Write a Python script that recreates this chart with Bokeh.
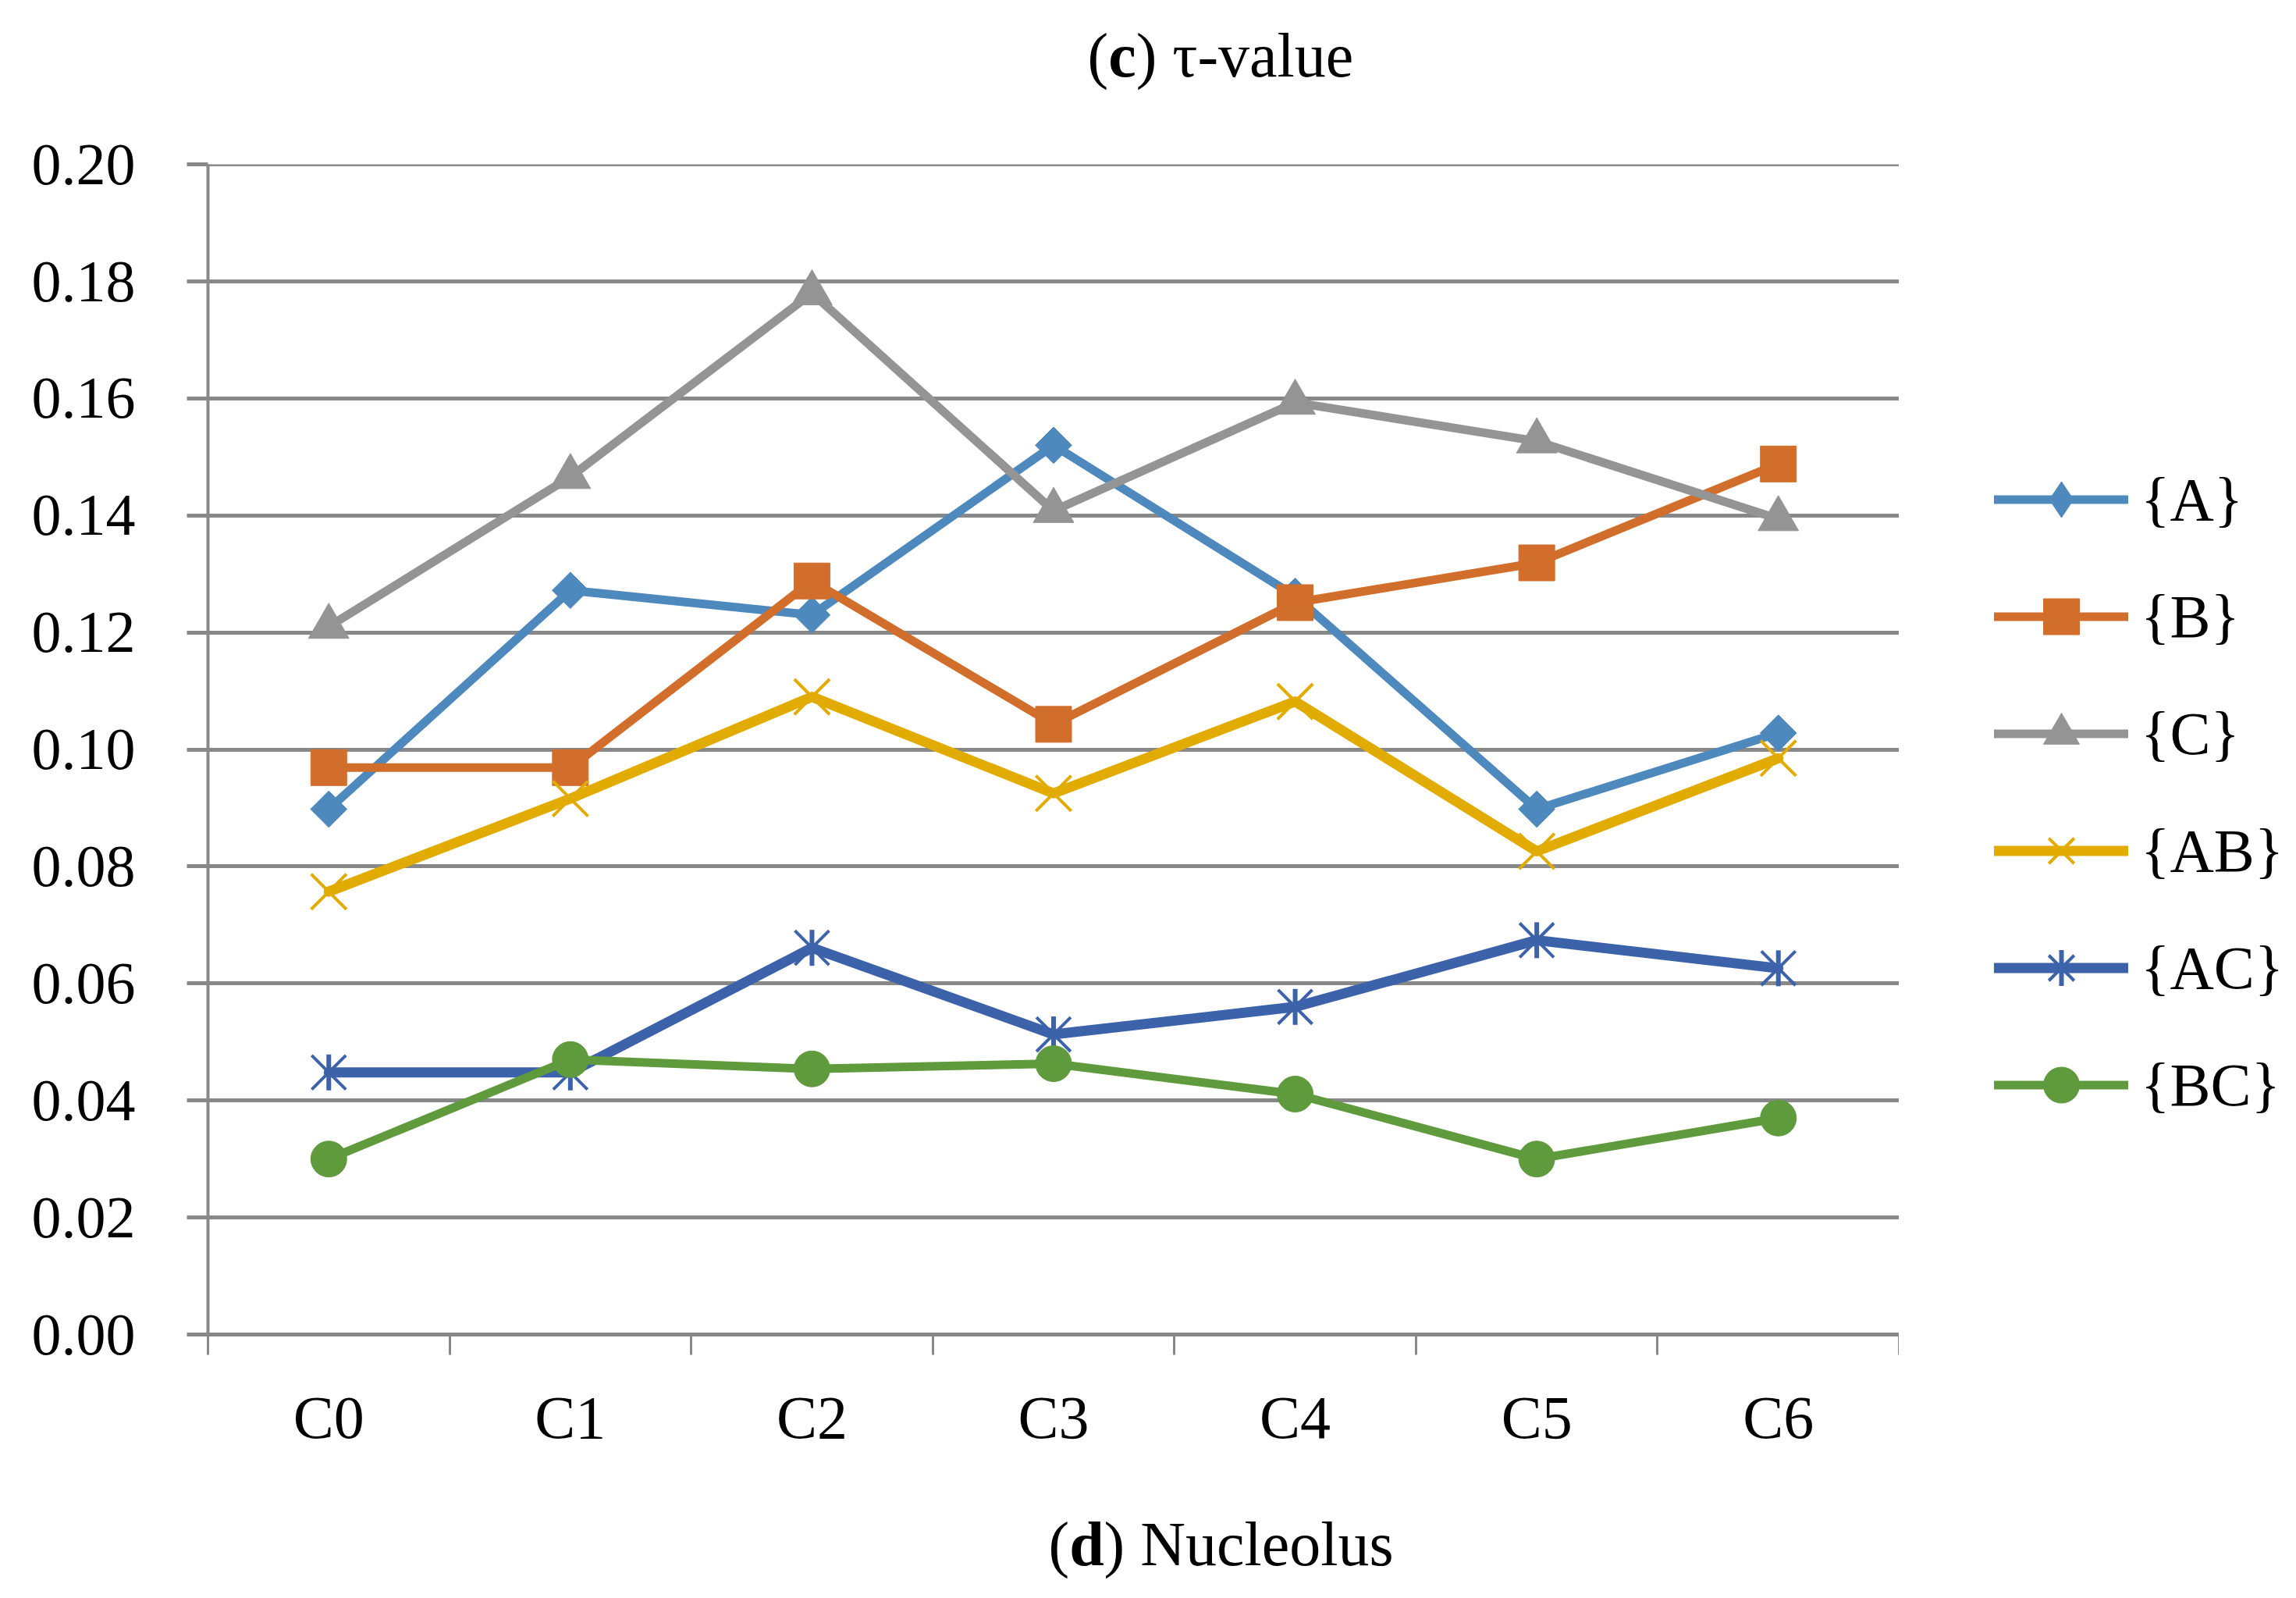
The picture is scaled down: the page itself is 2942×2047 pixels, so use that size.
import math
from bokeh.plotting import figure
from bokeh.layouts import column, row
from bokeh.models import Range1d, FixedTicker, NumeralTickFormatter, Legend, LegendItem, Label
from bokeh.embed import file_html
from bokeh.resources import INLINE

categories = ["C0", "C1", "C2", "C3", "C4", "C5", "C6"]
y_ticks = [0.00, 0.02, 0.04, 0.06, 0.08, 0.10, 0.12, 0.14, 0.16, 0.18, 0.20]

s_A = [0.0898, 0.1272, 0.1230, 0.1520, 0.1262, 0.0898, 0.1028]
s_B = [0.0969, 0.0969, 0.1288, 0.1043, 0.1251, 0.1319, 0.1488]
s_C = [0.1210, 0.1466, 0.1780, 0.1408, 0.1593, 0.1527, 0.1394]
s_AB = [0.0757, 0.0916, 0.1090, 0.0925, 0.1082, 0.0826, 0.0985]
s_AC = [0.0448, 0.0448, 0.0661, 0.0513, 0.0560, 0.0674, 0.0626]
s_BC = [0.0300, 0.0470, 0.0454, 0.0463, 0.0411, 0.0300, 0.0370]

series_names = ["{A}", "{B}", "{C}", "{AB}", "{AC}", "{BC}"]
series_values = [s_A, s_B, s_C, s_AB, s_AC, s_BC]
colors = ["#4E89BD", "#D26E2B", "#949494", "#E2AB00", "#3C62AA", "#5F9A3D"]
line_widths = [11, 11, 11, 13, 13, 11]

title_parts = [("(", False), ("c", True), (") τ-value", False)]
bottom_parts = [("(", False), ("d", True), (") Nucleolus", False)]

FONT = "Liberation Serif"
GRID = "#888888"
FS = 78
CAP_FS = 80
# Times/Liberation advance widths (em) of the short leading pieces
ADV = {("(", False): 0.333, ("c", True): 0.444, ("d", True): 0.556}

TOTAL_W = 2940
TOP_H = 150
MAIN_W = 2433
MAIN_H = 1758
LEG_W = TOTAL_W - MAIN_W
BOT_H = 2045 - TOP_H - MAIN_H


def blank_fig(w, h, xr=(0, 1), yr=(0, 1)):
    f = figure(width=w, height=h, output_backend="svg", toolbar_location=None,
               x_range=Range1d(*xr), y_range=Range1d(*yr),
               x_axis_type=None, y_axis_type=None,
               min_border_left=0, min_border_right=0, min_border_top=0, min_border_bottom=0)
    f.outline_line_color = None
    f.grid.visible = False
    f.background_fill_color = "white"
    f.border_fill_color = "white"
    return f


def rich_text(f, parts, x0, y):
    x = x0
    for txt, bold in parts:
        f.add_layout(Label(x=x, y=y, x_units="screen", y_units="screen", text=txt,
                           text_font=FONT, text_font_size="%dpx" % CAP_FS,
                           text_font_style="bold" if bold else "normal",
                           text_color="black", text_baseline="alphabetic",
                           text_align="left"))
        x += ADV.get((txt, bold), 0) * CAP_FS


# ---- top title
top = blank_fig(TOTAL_W, TOP_H)
rich_text(top, title_parts, 1393, TOP_H - 70)

# ---- main plot
p = figure(width=MAIN_W, height=MAIN_H, output_backend="svg", toolbar_location=None,
           x_range=Range1d(0, len(categories)), y_range=Range1d(0, 0.20002),
           min_border_left=266, min_border_right=0, min_border_top=60,
           min_border_bottom=199)
p.outline_line_color = None
p.background_fill_color = "white"
p.border_fill_color = "white"

xs = [i + 0.5 for i in range(len(categories))]

p.xaxis.ticker = FixedTicker(ticks=xs, minor_ticks=list(range(len(categories) + 1)))
p.xaxis.major_label_overrides = {x: c for x, c in zip(xs, categories)}
p.xaxis.major_tick_out = 0
p.xaxis.major_tick_in = 0
p.xaxis.major_tick_line_color = None
p.xaxis.minor_tick_out = 26
p.xaxis.minor_tick_in = 0
p.xaxis.minor_tick_line_color = GRID
p.xaxis.minor_tick_line_width = 3
p.xaxis.axis_line_color = GRID
p.xaxis.axis_line_width = 5
p.xaxis.major_label_text_font = FONT
p.xaxis.major_label_text_font_size = "%dpx" % FS
p.xaxis.major_label_text_color = "black"
p.xaxis.major_label_standoff = 36

p.yaxis.ticker = FixedTicker(ticks=y_ticks)
p.yaxis.formatter = NumeralTickFormatter(format="0.00")
p.yaxis.major_tick_out = 27
p.yaxis.major_tick_in = 0
p.yaxis.major_tick_line_color = GRID
p.yaxis.major_tick_line_width = 5
p.yaxis.minor_tick_line_color = None
p.yaxis.axis_line_color = GRID
p.yaxis.axis_line_width = 4
p.yaxis.major_label_text_font = FONT
p.yaxis.major_label_text_font_size = "76px"
p.yaxis.major_label_text_color = "black"
p.yaxis.major_label_standoff = 66

p.xgrid.grid_line_color = None
p.ygrid.ticker = FixedTicker(ticks=y_ticks)
p.ygrid.grid_line_color = GRID
p.ygrid.grid_line_width = 5


def draw_markers(f, x, y, idx, col, legend=False):
    """Excel-like marker of each series; returns the renderers"""
    rs = []
    if idx == 0:  # diamond
        if legend:
            rs.append(f.scatter(x, y, marker="diamond", size=48, fill_color=col, line_color=col))
        else:
            rs.append(f.scatter(x, y, marker="square", size=33, angle=math.pi / 4,
                                fill_color=col, line_color=col))
    elif idx == 1:
        rs.append(f.scatter(x, y, marker="square", size=46, fill_color=col, line_color=col))
    elif idx == 2:
        rs.append(f.scatter(x, y, marker="triangle", size=52, fill_color=col, line_color=col))
    elif idx == 3:
        rs.append(f.scatter(x, y, marker="x", size=64, line_color=col, line_width=4))
    elif idx == 4:
        rs.append(f.scatter(x, y, marker="x", size=62, line_color=col, line_width=4))
        if legend:
            rs.append(f.scatter(x, y, marker="cross", size=46, line_color=col, line_width=6))
        else:
            rs.append(f.scatter(x, y, marker="dash", size=46, angle=math.pi / 2,
                                line_color=col, line_width=6))
    else:
        rs.append(f.scatter(x, y, marker="circle", size=46, fill_color=col, line_color=col))
    return rs


for i, (vals, col, lw) in enumerate(zip(series_values, colors, line_widths)):
    p.line(xs, vals, line_color=col, line_width=lw, line_join="round", line_cap="round")
    draw_markers(p, xs, vals, i, col)

# ---- legend panel (proxy renderers sit outside the visible range)
lf = blank_fig(LEG_W, MAIN_H)
items = []
for i, (name, col, lw) in enumerate(zip(series_names, colors, line_widths)):
    r1 = lf.line([-2, -1], [-1, -1], line_color=col, line_width=lw, line_cap="round")
    rs = draw_markers(lf, [-1], [-1], i, col, legend=True)
    items.append(LegendItem(label=name, renderers=[r1] + rs))

legend = Legend(items=items, location=(122, 262), orientation="vertical",
                glyph_width=172, glyph_height=115, label_height=115,
                spacing=35, label_standoff=16, padding=0, margin=0,
                border_line_color=None, background_fill_alpha=0,
                label_text_font=FONT, label_text_font_size="%dpx" % FS,
                label_text_color="black", label_text_baseline="middle")
lf.add_layout(legend, "center")

# ---- bottom caption
bot = blank_fig(TOTAL_W, BOT_H)
rich_text(bot, bottom_parts, 1343, BOT_H - 69)

layout = column(top, row(p, lf, spacing=0), bot, spacing=0)
open("out.html", "w").write(file_html(layout, INLINE))
